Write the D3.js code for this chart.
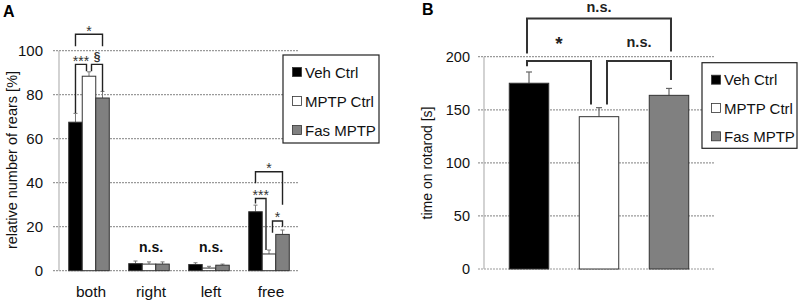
<!DOCTYPE html>
<html>
<head>
<meta charset="utf-8">
<script src="https://cdn.jsdelivr.net/npm/d3@7"></script>
<style>
  body { margin: 0; background: #fff; }
  svg { display: block; font-family: "Liberation Sans", Arial, sans-serif; }
</style>
</head>
<body>
<div id="chart"></div>
<script>
// ---- data ----
const series = ["Veh Ctrl", "MPTP Ctrl", "Fas MPTP"]
const seriesFill = ["#000000", "#ffffff", "#808080"]

// panel A: rears
const rearCats = ["both", "right", "left", "free"]
const rearVeh = [67.5, 3.2, 2.8, 26.8]
const rearMptp = [88.4, 3.0, 1.2, 7.6]
const rearFas = [78.5, 3.0, 2.5, 16.5]
const rearVehErr = [4, 1.2, 0.8, 3]
const rearMptpErr = [2, 1, 0.8, 1.8]
const rearFasErr = [3, 1, 0.5, 2]
const rearTicks = [0, 20, 40, 60, 80, 100]

// panel B: rotarod
const rotaVals = [175, 143.5, 163.6]
const rotaErr = [10.6, 8.5, 6.5]
const rotaTicks = [0, 50, 100, 150, 200]

// significance brackets:
// [category, from series, to series, top, left leg end, right leg end, label, left shift, right shift]
const rearSig = [
  ["both", 0, 2, 107.5, 102, 102, "*", 0, 0],
  ["both", 0, 1, 93.8, 71.7, 90.7, "***", 0, -2.5],
  ["both", 1, 2, 93.8, 90.7, 81.5, "§", 2.5, 0],
  ["free", 0, 2, 45, 39.8, 30, "*", 0, 0],
  ["free", 0, 1, 32.8, 30.5, 9.4, "***", 0, -3],
  ["free", 1, 2, 22.6, 17.3, 20, "*", 3.5, 0]
]
const rearNs = ["right", "left"]
// [from, to, top, left leg end, right leg end, label, left shift, right shift]
const rotaSig = [
  [0, 2, 236, 203, 205, "n.s.", -2, 2],
  [0, 1, 196, 191, 155, "*", -2, -8],
  [1, 2, 196, 155, 178, "n.s.", 8, 2]
]

const svg = d3.select("#chart").append("svg")
  .attr("width", 800).attr("height", 302)

const gridC = "#9a9a9a"

function drawGrid(y, ticks, x0, x1) {
  svg.append("g").selectAll("line").data(ticks).enter().append("line")
    .attr("x1", x0 - 6).attr("x2", x1)
    .attr("y1", d => y(d)).attr("y2", d => y(d))
    .attr("stroke", gridC).attr("stroke-width", 1.2)
    .attr("stroke-dasharray", "2,1")
  svg.append("line")
    .attr("x1", x0).attr("x2", x0)
    .attr("y1", y(0)).attr("y2", y(ticks[ticks.length - 1]))
    .attr("stroke", "#b5b5b5").attr("stroke-width", 1.2)
}

function drawLegend(x, y, w, h, gap, fs) {
  let g = svg.append("g")
  g.append("rect").attr("x", x).attr("y", y).attr("width", w).attr("height", h)
    .attr("fill", "#fff").attr("stroke", "#222").attr("stroke-width", 1.2)
  series.forEach(function(s, i) {
    let cy = y + 17 + i * gap
    g.append("rect").attr("x", x + 9.5).attr("y", cy - 4.5).attr("width", 9).attr("height", 9)
      .attr("fill", seriesFill[i]).attr("stroke", "#333").attr("stroke-width", 0.8)
    g.append("text").attr("x", x + 22).attr("y", cy + 5.5)
      .attr("font-size", fs).attr("fill", "#111").text(s)
  })
}

// ---- panel A ----
let aLeft = 59, aRight = 299
let yA = d3.scaleLinear().domain([0, 100]).range([270.7, 50.7])
let xA = d3.scaleBand().domain(rearCats).range([aLeft, aRight])
let xSubA = d3.scaleBand().domain(d3.range(3)).range([0, xA.bandwidth()]).paddingOuter(0.72)

drawGrid(yA, rearTicks, aLeft, aRight)

svg.append("g").attr("transform", `translate(${aLeft},0)`)
  .call(d3.axisLeft(yA).tickValues(rearTicks).tickSize(0).tickPadding(16))
  .call(g => g.select(".domain").remove())
  .selectAll("text").attr("font-size", 15).attr("fill", "#111")
  .attr("font-family", "Liberation Sans, Arial, sans-serif")

let rearRows = rearCats.map((c, i) => ({
  cat: c,
  vals: [rearVeh[i], rearMptp[i], rearFas[i]],
  errs: [rearVehErr[i], rearMptpErr[i], rearFasErr[i]]
}))

let barA = svg.append("g").selectAll("g").data(rearRows).enter().append("g")
  .attr("transform", d => `translate(${xA(d.cat)},0)`)
barA.selectAll("line.err").data(d => d.vals.map((v, k) => [k, v, d.errs[k]])).enter()
  .append("line").attr("class", "err")
  .attr("x1", d => xSubA(d[0]) + xSubA.bandwidth() / 2)
  .attr("x2", d => xSubA(d[0]) + xSubA.bandwidth() / 2)
  .attr("y1", d => yA(d[1])).attr("y2", d => yA(d[1] + d[2]))
  .attr("stroke", "#777").attr("stroke-width", 1)
barA.selectAll("line.cap").data(d => d.vals.map((v, k) => [k, v, d.errs[k]])).enter()
  .append("line").attr("class", "cap")
  .attr("x1", d => xSubA(d[0]) + xSubA.bandwidth() / 2 - 2)
  .attr("x2", d => xSubA(d[0]) + xSubA.bandwidth() / 2 + 2)
  .attr("y1", d => yA(d[1] + d[2])).attr("y2", d => yA(d[1] + d[2]))
  .attr("stroke", "#777").attr("stroke-width", 1)
barA.selectAll("rect").data(d => d.vals.map((v, k) => [k, v])).enter().append("rect")
  .attr("x", d => xSubA(d[0]))
  .attr("width", xSubA.bandwidth())
  .attr("y", d => yA(d[1]))
  .attr("height", d => yA(0) - yA(d[1]))
  .attr("fill", d => seriesFill[d[0]])
  .attr("stroke", "#333").attr("stroke-width", 1)

// category labels
svg.append("g").selectAll("text").data(rearCats).enter().append("text")
  .attr("x", d => xA(d) + xA.bandwidth() / 2 + 2)
  .attr("y", 297).attr("text-anchor", "middle")
  .attr("font-size", 15.5).attr("fill", "#111").text(d => d)

// brackets A
function subX(cat, k) { return xA(cat) + xSubA(k) + xSubA.bandwidth() / 2 }
let sigA = svg.append("g")
rearSig.forEach(function(s) {
  let xl = subX(s[0], s[1]) + s[7], xr = subX(s[0], s[2]) + s[8]
  sigA.append("path")
    .attr("d", `M${xl},${yA(s[4])}V${yA(s[3])}H${xr}V${yA(s[5])}`)
    .attr("fill", "none").attr("stroke", "#222").attr("stroke-width", 1.4)
  let sect = s[6] == "§"
  sigA.append("text").attr("x", (xl + xr) / 2).attr("y", yA(s[3]) + (sect ? -3 : 1.5))
    .attr("text-anchor", "middle").attr("font-size", sect ? 12 : 14)
    .attr("font-weight", sect ? "bold" : "normal").attr("fill", "#333").text(s[6])
})
sigA.selectAll("text.ns").data(rearNs).enter().append("text")
  .attr("x", d => xA(d) + xA.bandwidth() / 2 + 2).attr("y", 252)
  .attr("text-anchor", "middle").attr("font-size", 14).attr("font-weight", "bold")
  .attr("fill", "#111").text("n.s.")

drawLegend(283, 55, 96, 88, 29, 15)

svg.append("text").attr("transform", "translate(17,160)rotate(-90)")
  .attr("text-anchor", "middle").attr("font-size", 14.5).attr("fill", "#111")
  .text("relative number of rears [%]")
svg.append("text").attr("x", 3).attr("y", 17).attr("font-size", 16)
  .attr("font-weight", "bold").text("A")

// ---- panel B ----
let bLeft = 484, bRight = 714
let yB = d3.scaleLinear().domain([0, 200]).range([269, 56.7])
let xB = d3.scaleBand().domain(d3.range(3)).range([bLeft, bRight])
  .paddingInner(0.436).paddingOuter(0.361)

drawGrid(yB, rotaTicks, bLeft, bRight)

svg.append("g").attr("transform", `translate(${bLeft},0)`)
  .call(d3.axisLeft(yB).tickValues(rotaTicks).tickSize(0).tickPadding(14))
  .call(g => g.select(".domain").remove())
  .selectAll("text").attr("font-size", 14.5).attr("fill", "#111")
  .attr("font-family", "Liberation Sans, Arial, sans-serif")

let barB = svg.append("g")
barB.selectAll("line.err").data(rotaVals).enter().append("line").attr("class", "err")
  .attr("x1", (d, i) => xB(i) + xB.bandwidth() / 2).attr("x2", (d, i) => xB(i) + xB.bandwidth() / 2)
  .attr("y1", d => yB(d)).attr("y2", (d, i) => yB(d + rotaErr[i]))
  .attr("stroke", "#666").attr("stroke-width", 1.2)
barB.selectAll("line.cap").data(rotaVals).enter().append("line").attr("class", "cap")
  .attr("x1", (d, i) => xB(i) + xB.bandwidth() / 2 - 3).attr("x2", (d, i) => xB(i) + xB.bandwidth() / 2 + 3)
  .attr("y1", (d, i) => yB(d + rotaErr[i])).attr("y2", (d, i) => yB(d + rotaErr[i]))
  .attr("stroke", "#666").attr("stroke-width", 1.2)
barB.selectAll("rect").data(rotaVals).enter().append("rect")
  .attr("x", (d, i) => xB(i)).attr("width", xB.bandwidth())
  .attr("y", d => yB(d)).attr("height", d => yB(0) - yB(d))
  .attr("fill", (d, i) => seriesFill[i])
  .attr("stroke", "#333").attr("stroke-width", 1)

let sigB = svg.append("g")
rotaSig.forEach(function(s) {
  let xl = xB(s[0]) + xB.bandwidth() / 2 + s[6], xr = xB(s[1]) + xB.bandwidth() / 2 + s[7]
  sigB.append("path")
    .attr("d", `M${xl},${yB(s[3])}V${yB(s[2])}H${xr}V${yB(s[4])}`)
    .attr("fill", "none").attr("stroke", "#333").attr("stroke-width", 2)
  let top = s[2] > 220
  sigB.append("text").attr("x", (xl + xr) / 2)
    .attr("y", top ? 12 : (s[5] == "*" ? 50 : 47))
    .attr("text-anchor", "middle").attr("font-weight", "bold")
    .attr("font-size", s[5] == "*" ? 19 : 14.5).attr("fill", "#222").text(s[5])
})

drawLegend(702, 62.7, 95, 85.6, 28.3, 15)

svg.append("text").attr("transform", "translate(432,163)rotate(-90)")
  .attr("text-anchor", "middle").attr("font-size", 14).attr("fill", "#111")
  .text("time on rotarod [s]")
svg.append("text").attr("x", 422).attr("y", 15).attr("font-size", 16)
  .attr("font-weight", "bold").text("B")
</script>
</body>
</html>
